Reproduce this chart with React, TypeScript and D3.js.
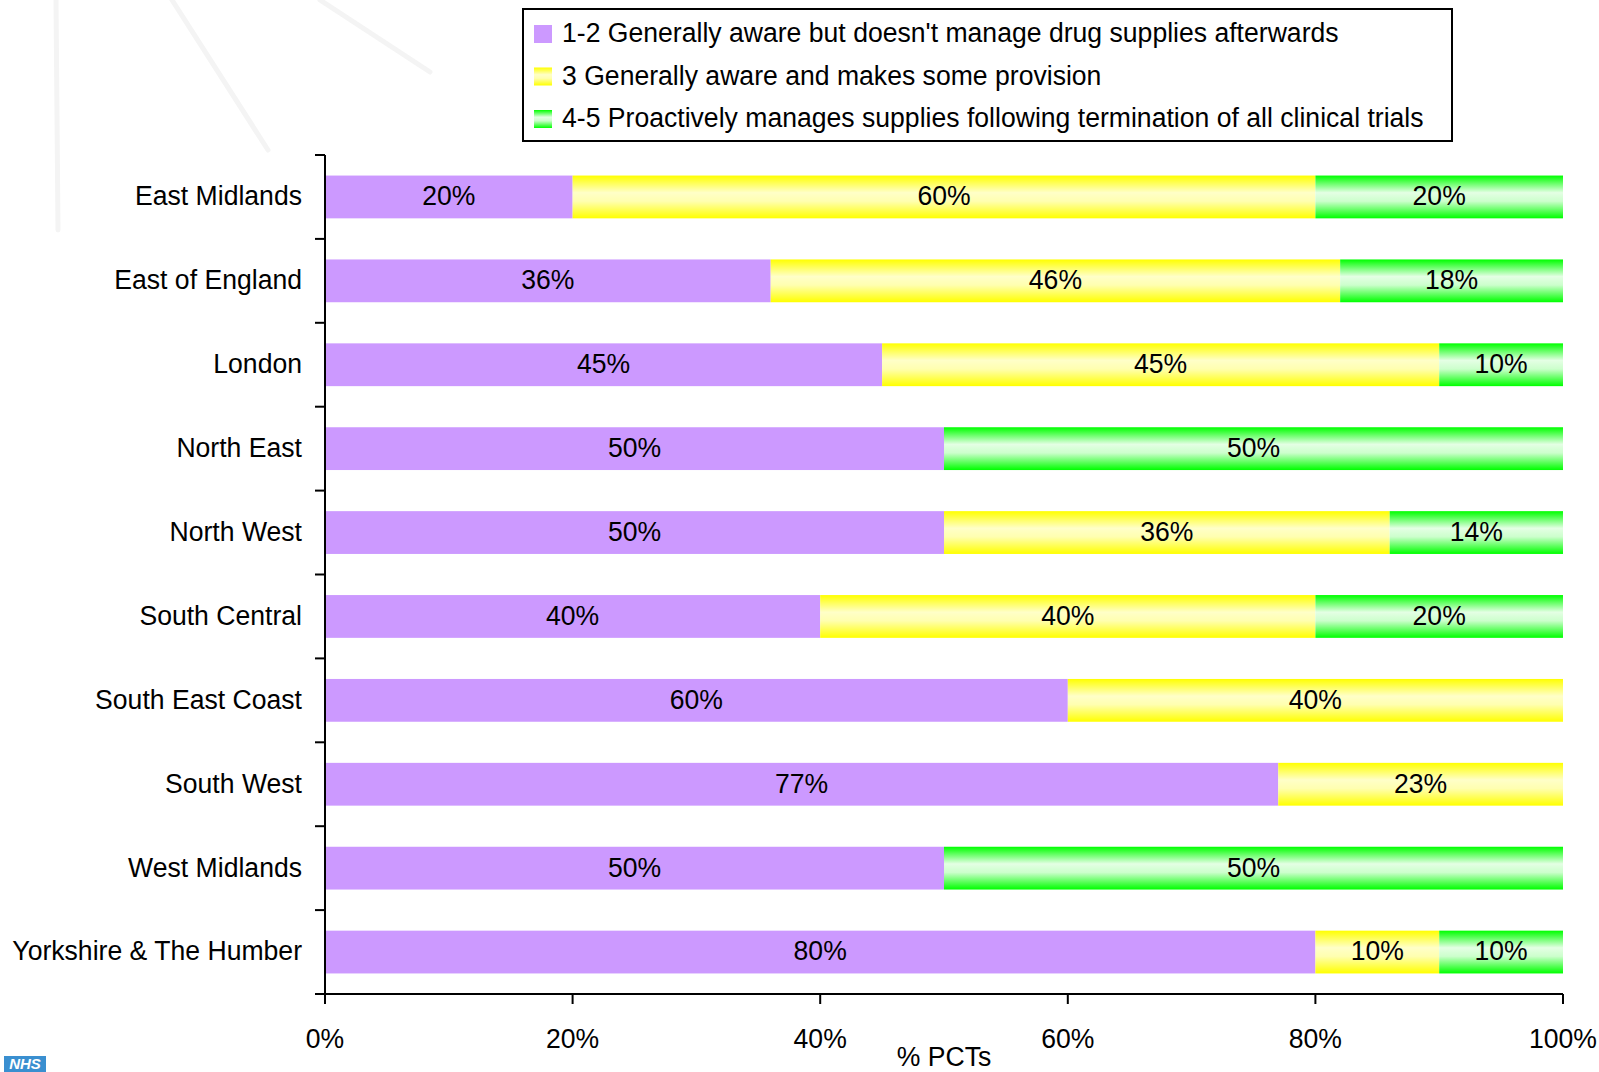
import React from "react";
import * as d3 from "d3";

const categories = [
  "East Midlands",
  "East of England",
  "London",
  "North East",
  "North West",
  "South Central",
  "South East Coast",
  "South West",
  "West Midlands",
  "Yorkshire & The Humber",
];
const seriesNames = [
  "1-2 Generally aware but doesn't manage drug supplies afterwards",
  "3 Generally aware and makes some provision",
  "4-5 Proactively manages supplies following termination of all clinical trials",
];
const aware12 = [20, 36, 45, 50, 50, 40, 60, 77, 50, 80];
const aware3 = [60, 46, 45, 0, 36, 40, 40, 23, 0, 10];
const proactive45 = [20, 18, 10, 50, 14, 20, 0, 0, 50, 10];
const xTicks = [0, 20, 40, 60, 80, 100];
const axisTitle = "% PCTs";

const W = 1599;
const H = 1072;
const FONT = "'Liberation Sans', Arial, sans-serif";
const SX = 0.95;
const FS = 28;

function T(props: { x: number; y: number; anchor?: string; children: React.ReactNode; size?: number }) {
  const { x, y, anchor = "start", children, size = FS } = props;
  return (
    <text
      transform={`translate(${x},${y}) scale(${SX},1)`}
      dy="0.3em"
      textAnchor={anchor}
      fontSize={size}
      fill="#000"
    >
      {children}
    </text>
  );
}

export default function App() {
  const x = d3.scaleLinear().domain([0, 100]).range([325, 1563]);
  const y = d3.scaleBand<string>().domain(categories).range([155, 994]).paddingInner(0.49).paddingOuter(0.245);
  const fills = ["#cc99ff", "url(#gradY)", "url(#gradG)"];
  const series = [aware12, aware3, proactive45];
  const rows = categories.map((c, i) => {
    const vals = series.map((s) => s[i]);
    let acc = 0;
    return vals.map((v, k) => {
      const seg = { cat: c, k, v, x0: acc, x1: acc + v };
      acc += v;
      return seg;
    });
  });
  const step = (994 - 155) / categories.length;
  const boundaries = d3.range(categories.length + 1).map((i) => 155 + i * step);

  return (
    <svg width={W} height={H} style={{ position: "absolute", left: 0, top: 0, background: "#fff" }} fontFamily={FONT}>
      <defs>
        <linearGradient id="gradY" x1="0" y1="0" x2="0" y2="1">
          <stop offset="0" stopColor="#ffff00" />
          <stop offset="0.4" stopColor="#ffffc8" />
          <stop offset="0.6" stopColor="#ffffb0" />
          <stop offset="1" stopColor="#ffff00" />
        </linearGradient>
        <linearGradient id="gradG" x1="0" y1="0" x2="0" y2="1">
          <stop offset="0" stopColor="#00ff00" />
          <stop offset="0.4" stopColor="#e4ffe4" />
          <stop offset="0.6" stopColor="#ccffcc" />
          <stop offset="1" stopColor="#00ff00" />
        </linearGradient>
      </defs>
      <rect width={W} height={H} fill="#fff" />
      {/* faint background decoration */}
      <g stroke="#f4f4f4" strokeWidth={5} strokeLinecap="round">
        <line x1={56} y1={0} x2={58} y2={230} />
        <line x1={172} y1={0} x2={268} y2={150} />
        <line x1={320} y1={0} x2={430} y2={72} />
      </g>

      {/* bars */}
      {rows.map((segs, i) => (
        <g key={i}>
          {segs.filter((s) => s.v > 0).map((s) => (
            <g key={s.k}>
              <rect x={x(s.x0)} y={y(s.cat)!} width={x(s.x1) - x(s.x0)} height={y.bandwidth()} fill={fills[s.k]} />
              <T x={(x(s.x0) + x(s.x1)) / 2} y={y(s.cat)! + y.bandwidth() / 2} anchor="middle">
                {s.v}%
              </T>
            </g>
          ))}
        </g>
      ))}

      {/* y axis */}
      <line x1={325} y1={155} x2={325} y2={994} stroke="#000" strokeWidth={2} />
      {boundaries.map((b, i) => (
        <line key={i} x1={315} y1={b} x2={325} y2={b} stroke="#000" strokeWidth={2} />
      ))}
      {categories.map((c) => (
        <T key={c} x={302} y={y(c)! + y.bandwidth() / 2} anchor="end">
          {c}
        </T>
      ))}

      {/* x axis */}
      <line x1={315} y1={994} x2={1563} y2={994} stroke="#000" strokeWidth={2} />
      {xTicks.map((t) => (
        <g key={t}>
          <line x1={x(t)} y1={994} x2={x(t)} y2={1004} stroke="#000" strokeWidth={2} />
          <T x={x(t)} y={1040} anchor="middle">
            {t}%
          </T>
        </g>
      ))}
      <T x={944} y={1058} anchor="middle">
        {axisTitle}
      </T>

      {/* legend */}
      <rect x={523} y={9} width={929} height={132} fill="#fff" stroke="#000" strokeWidth={2} />
      {seriesNames.map((n, k) => {
        const cy = 34 + k * 42.5;
        return (
          <g key={n}>
            <rect x={534} y={cy - 9} width={18} height={18} fill={fills[k]} />
            <T x={562} y={cy}>
              {n}
            </T>
          </g>
        );
      })}

      {/* NHS logo */}
      <rect x={4} y={1056} width={42} height={16} fill="#3a8fd0" />
      <text x={25} y={1069} textAnchor="middle" fontSize={15} fontWeight="bold" fontStyle="italic" fill="#fff" fontFamily="'Liberation Sans', sans-serif">
        NHS
      </text>
    </svg>
  );
}
